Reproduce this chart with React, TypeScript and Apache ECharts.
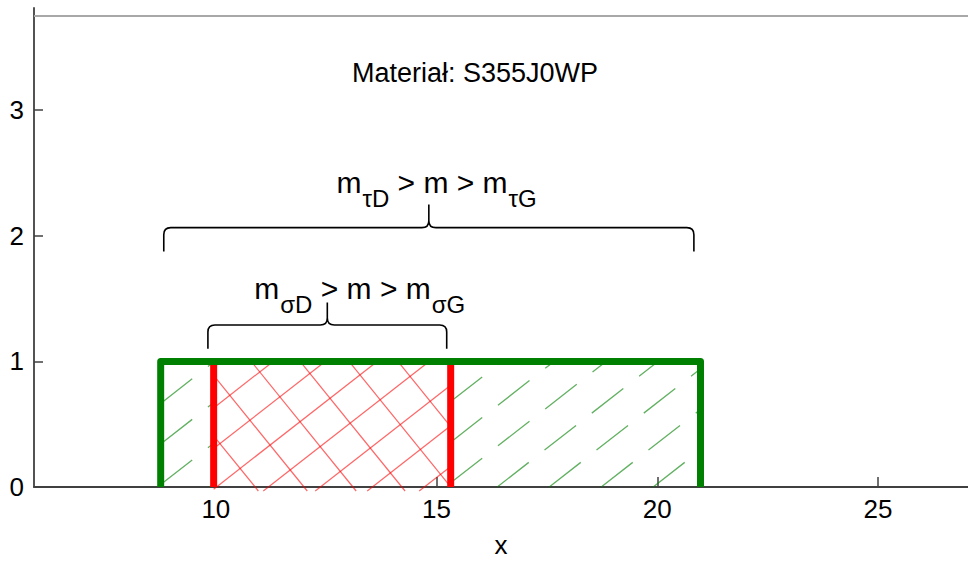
import React, { useEffect, useRef } from "react";
import * as echarts from "echarts";

const FONT = "'Liberation Sans', Arial, Helvetica, sans-serif";

// axes
const xTicks = [10, 15, 20, 25];
const yTicks = [0, 1, 2, 3];
const xExtent = [5.88, 27.04];
const yExtent = [0, 3.814];
const frameTopY = 3.75;
const xName = "x";

// ranges of m
const tauRange = [8.75, 20.98];
const sigmaRange = [9.95, 15.32];
const rangeTop = 1;

// braces: [xLeft, xRight, yEnds, yBar, yTip]
const braceTau = [8.82, 20.83, 1.875, 2.065, 2.25];
const braceSigma = [9.82, 15.23, 1.1, 1.29, 1.47];

// annotation texts
const labelTexts = [
  "Materiał: S355J0WP",
  "{m|m}{s|τD}{m| > m > m}{s|τG}",
  "{m|m}{s|σD}{m| > m > m}{s|σG}",
];
const labelX = [15.87, 15.0, 13.26];
const labelY = [3.3, 2.37, 1.53];

// hatch styles (pixel-space patterns)
const HATCH = [
  { angle: 38, spacing: 32, phase: 0.8, color: "rgba(0,128,0,0.62)", width: 1.3, dash: [40, 20], extendBottom: 0 },
  { angle: 38, spacing: 32, phase: 17.9, color: "rgba(0,128,0,0.62)", width: 1.3, dash: [40, 20], extendBottom: 0 },
  { angle: 38, spacing: 32, phase: 5, color: "rgba(255,0,0,0.6)", width: 1.2, dash: null, extendBottom: 4 },
  { angle: -51, spacing: 38, phase: 32.2, color: "rgba(255,0,0,0.6)", width: 1.2, dash: null, extendBottom: 4 },
];

const hatchData = [
  [tauRange[0], sigmaRange[0], 0, rangeTop, 0],
  [sigmaRange[1], tauRange[1], 0, rangeTop, 1],
  [sigmaRange[0], sigmaRange[1], 0, rangeTop, 2],
  [sigmaRange[0], sigmaRange[1], 0, rangeTop, 3],
];

const greenOutline = [
  [tauRange[0], 0],
  [tauRange[0], rangeTop],
  [tauRange[1], rangeTop],
  [tauRange[1], 0],
];
const redLeft = [
  [sigmaRange[0], 0],
  [sigmaRange[0], rangeTop],
];
const redRight = [
  [sigmaRange[1], 0],
  [sigmaRange[1], rangeTop],
];

function hatchItem(params: any, api: any) {
  const x1 = api.value(0), x2 = api.value(1), y1 = api.value(2), y2 = api.value(3);
  const st = HATCH[api.value(4)];
  const a = api.coord([x1, y1]);
  const b = api.coord([x2, y2]);
  const L = Math.min(a[0], b[0]), R = Math.max(a[0], b[0]);
  const T = Math.min(a[1], b[1]), B = Math.max(a[1], b[1]) + st.extendBottom;
  const rad = (st.angle * Math.PI) / 180;
  const dx = Math.cos(rad), dy = -Math.sin(rad);
  const nx = -dy, ny = dx;
  const ss = [[L, T], [R, T], [L, B], [R, B]].map(([x, y]) => x * nx + y * ny);
  const sMin = Math.min(...ss), sMax = Math.max(...ss);
  const children: any[] = [];
  for (let k = Math.ceil((sMin - st.phase) / st.spacing); st.phase + k * st.spacing <= sMax; k++) {
    const s = st.phase + k * st.spacing;
    const px = nx * s, py = ny * s;
    let t0 = -1e9, t1 = 1e9;
    if (Math.abs(dx) > 1e-9) {
      const u1 = (L - px) / dx, u2 = (R - px) / dx;
      t0 = Math.max(t0, Math.min(u1, u2));
      t1 = Math.min(t1, Math.max(u1, u2));
    } else if (px < L || px > R) continue;
    if (Math.abs(dy) > 1e-9) {
      const u1 = (T - py) / dy, u2 = (B - py) / dy;
      t0 = Math.max(t0, Math.min(u1, u2));
      t1 = Math.min(t1, Math.max(u1, u2));
    } else if (py < T || py > B) continue;
    if (t1 - t0 < 1) continue;
    let sx = px + dx * t0, sy = py + dy * t0, ex = px + dx * t1, ey = py + dy * t1;
    if (sy < ey) {
      [sx, ex] = [ex, sx];
      [sy, ey] = [ey, sy];
    }
    children.push({
      type: "line",
      shape: { x1: sx, y1: sy, x2: ex, y2: ey },
      style: { stroke: st.color, lineWidth: st.width, lineDash: st.dash || null },
    });
  }
  return { type: "group", children };
}

function braceItem(params: any, api: any) {
  const pl = api.coord([api.value(0), api.value(2)]);
  const pr = api.coord([api.value(1), api.value(2)]);
  const ph = api.coord([api.value(0), api.value(3)]);
  const pt = api.coord([api.value(0), api.value(4)]);
  const xl = pl[0], xr = pr[0], xm = (xl + xr) / 2;
  const yb = pl[1], yh = ph[1], yt = pt[1];
  const r = 7;
  const d =
    `M${xl} ${yb} L${xl} ${yh + r} Q${xl} ${yh} ${xl + r} ${yh} L${xm - r} ${yh} ` +
    `Q${xm} ${yh} ${xm} ${yh - r} L${xm} ${yt} L${xm} ${yh - r} Q${xm} ${yh} ${xm + r} ${yh} ` +
    `L${xr - r} ${yh} Q${xr} ${yh} ${xr} ${yh + r} L${xr} ${yb}`;
  return {
    type: "path",
    shape: { pathData: d },
    style: { stroke: "#000", lineWidth: 1.6, fill: null },
  };
}

const labelData = labelX.map((x, i) => [x, labelY[i], i]);

function labelItem(params: any, api: any) {
  const i = api.value(2);
  const p = api.coord([api.value(0), api.value(1)]);
  return {
    type: "text",
    x: p[0],
    y: p[1],
    style: {
      text: labelTexts[i],
      fill: "#000",
      fontSize: i === 0 ? 27 : 30,
      fontFamily: FONT,
      align: "center",
      verticalAlign: "middle",
      rich:
        i === 0
          ? undefined
          : {
              m: { fontSize: 30, fontFamily: FONT, fill: "#000", verticalAlign: "top", lineHeight: 34 },
              s: { fontSize: 24, fontFamily: FONT, fill: "#000", verticalAlign: "top", padding: [19, 0, 0, 1] },
            },
    },
  };
}

export default function App() {
  const ref = useRef<HTMLDivElement>(null);
  useEffect(() => {
    if (!ref.current) return;
    const chart = echarts.init(ref.current, null, { renderer: "svg" });
    const axisLine = { show: true, lineStyle: { color: "#404040", width: 1.8 } };
    chart.setOption({
      animation: false,
      backgroundColor: "#ffffff",
      grid: { left: 34, right: 0, top: 8, bottom: 76, containLabel: false, outerBoundsMode: "none" },
      xAxis: {
        type: "value",
        min: xExtent[0],
        max: xExtent[1],
        axisLine,
        splitLine: { show: false },
        axisTick: { show: true, inside: true, length: 10, customValues: xTicks, lineStyle: { color: "#404040", width: 1.5 } },
        axisLabel: { customValues: xTicks, fontSize: 26, color: "#000", fontFamily: FONT, margin: 9 },
        name: xName,
        nameLocation: "middle",
        nameGap: 45,
        nameTextStyle: { fontSize: 26, color: "#000", fontFamily: FONT },
      },
      yAxis: {
        type: "value",
        min: yExtent[0],
        max: yExtent[1],
        axisLine,
        splitLine: { show: false },
        axisTick: { show: true, inside: true, length: 9, customValues: yTicks, lineStyle: { color: "#404040", width: 1.5 } },
        axisLabel: { customValues: yTicks, fontSize: 26, color: "#000", fontFamily: FONT, margin: 10 },
      },
      series: [
        { type: "custom", renderItem: hatchItem, data: hatchData, z: 1, silent: true },
        { type: "line", data: redLeft, symbol: "none", lineStyle: { color: "#ff0000", width: 7 }, z: 2, silent: true },
        { type: "line", data: redRight, symbol: "none", lineStyle: { color: "#ff0000", width: 7 }, z: 2, silent: true },
        {
          type: "line",
          data: greenOutline,
          symbol: "none",
          lineStyle: { color: "#008000", width: 7, join: "round" },
          z: 3,
          silent: true,
          markLine: {
            silent: true,
            symbol: "none",
            label: { show: false },
            lineStyle: { color: "#a8a8a8", width: 2, type: "solid" },
            data: [{ yAxis: frameTopY }],
          },
        },
        { type: "custom", renderItem: braceItem, data: [braceTau, braceSigma], z: 4, silent: true },
        { type: "custom", renderItem: labelItem, data: labelData, z: 5, silent: true },
      ],
    });
    return () => chart.dispose();
  }, []);
  return (
    <div
      ref={ref}
      style={{ position: "fixed", left: 0, top: 0, width: 968, height: 563, background: "#fff" }}
    />
  );
}
